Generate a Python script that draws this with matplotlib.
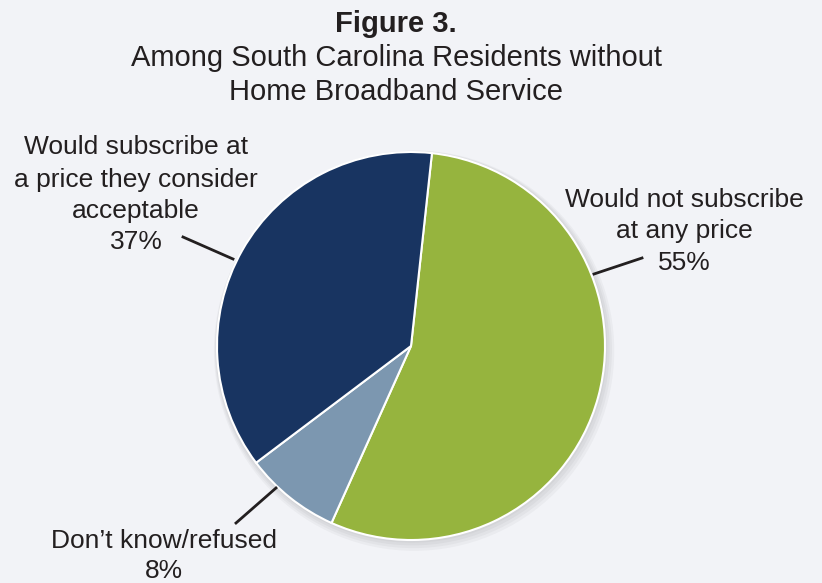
import matplotlib
matplotlib.use("Agg")
import matplotlib.pyplot as plt
from matplotlib import font_manager

names = {f.name for f in font_manager.fontManager.ttflist}
FONT = ["Liberation Sans", "Arial", "DejaVu Sans"]
FONT = [f for f in FONT if f in names] or ["DejaVu Sans"]
plt.rcParams["font.family"] = FONT

categories = [["Would not subscribe", "at any price"], ["Don\u2019t know/refused"],
              ["Would subscribe at", "a price they consider", "acceptable"]]
values = [55, 8, 37]
colors = ["#96b43e", "#7c97b0", "#183461"]
title_lines = ["Figure 3.", "Among South Carolina Residents without", "Home Broadband Service"]

W, H = 822, 583
BG = "#f2f3f7"
TXT = "#231f20"
fig = plt.figure(figsize=(W / 100, H / 100), dpi=100, facecolor=BG)

cx, cy, r = 411, 346, 194
ax = fig.add_axes([(cx - r) / W, (H - cy - r) / H, 2 * r / W, 2 * r / H])
ax.set_facecolor(BG)
ax.axis("off")

# soft shadow
for i in range(4):
    c = plt.Circle((0.004 * (i + 1), -0.006 * (i + 1)), 1.0 + 0.008 * (i + 1),
                   color="black", alpha=0.03, lw=0, zorder=0, clip_on=False)
    ax.add_patch(c)

ax.pie(values, colors=colors, startangle=83.8, counterclock=False, radius=1.0,
       wedgeprops=dict(edgecolor="white", linewidth=1.5), frame=False)
ax.set_xlim(-1, 1)
ax.set_ylim(-1, 1)
ax.set_aspect("equal")


def fx(x):
    return x / W


def fy(y):
    return 1 - y / H


tfs = 21
for i, (line, yb) in enumerate(zip(title_lines, [32, 66, 100])):
    fig.text(fx(396), fy(yb), line, ha="center", va="baseline", fontsize=tfs,
             fontweight="bold" if i == 0 else "normal", color=TXT)

lfs = 19


def label(x, baselines, lines):
    for line, yb in zip(lines, baselines):
        fig.text(fx(x), fy(yb), line, ha="center", va="baseline", fontsize=lfs, color=TXT)


label(136, [154, 187, 218, 249], categories[2] + ["%d%%" % values[2]])
label(684, [207, 238, 270], categories[0] + ["%d%%" % values[0]])
label(164, [548, 578], categories[1] + ["%d%%" % values[1]])

for (x0, y0, x1, y1) in [(183, 237, 233, 259), (594, 274, 642, 258), (236, 523, 276, 488)]:
    fig.add_artist(plt.Line2D([fx(x0), fx(x1)], [fy(y0), fy(y1)], color=TXT,
                              lw=2, transform=fig.transFigure))

fig.savefig("out.png", dpi=100, facecolor=BG)
